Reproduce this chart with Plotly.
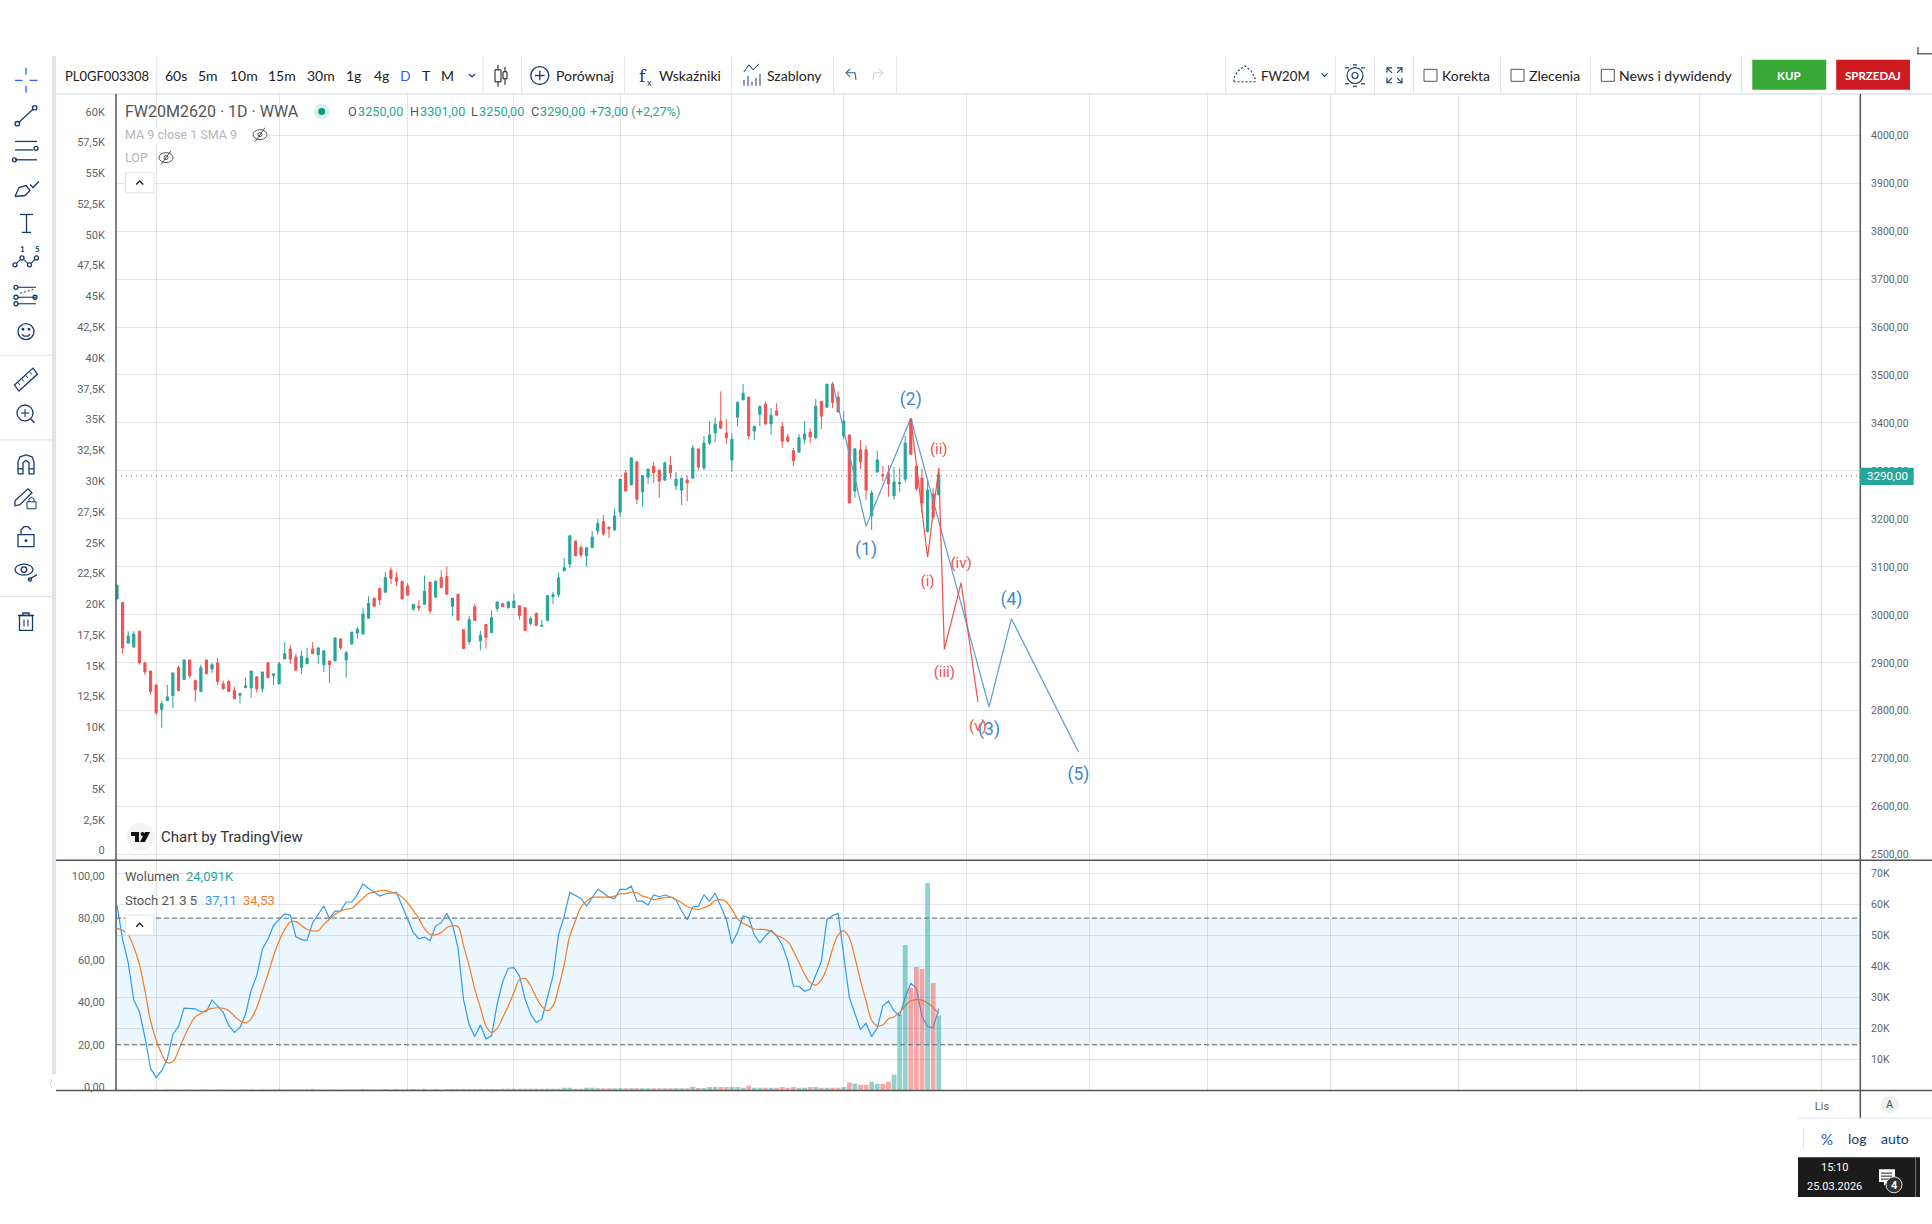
import plotly.graph_objects as go

W = 1932
H = 1224

opens = [3033, 3026, 2941, 2933, 2966, 2900, 2883, 2854, 2803, 2821, 2832, 2890, 2865, 2906, 2863, 2840, 2906, 2887, 2900, 2856,
         2861, 2842, 2832, 2848, 2848, 2871, 2846, 2900, 2873, 2856, 2908, 2929, 2912, 2890, 2898, 2929, 2917, 2896, 2904, 2904,
         2950, 2906, 2939, 2962, 2960, 2993, 3035, 3055, 3047, 3093, 3078, 3070, 3060, 3012, 3018, 3022, 3068, 3037, 3078, 3080,
         3018, 3043, 2969, 2944, 3017, 2946, 2980, 2963, 3013, 3023, 3015, 3015, 3019, 3015, 2982, 3003, 2976, 2988, 3038, 3042,
         3092, 3106, 3154, 3140, 3123, 3140, 3175, 3194, 3183, 3177, 3214, 3296, 3271, 3319, 3256, 3287, 3310, 3302, 3281, 3312,
         3269, 3260, 3281, 3285, 3346, 3306, 3358, 3379, 3404, 3379, 3323, 3412, 3448, 3454, 3383, 3418, 3439, 3398, 3425, 3393,
         3371, 3342, 3339, 3366, 3381, 3369, 3445, 3433, 3481, 3454, 3373, 3375, 3258, 3344, 3344, 3206, 3298, 3292, 3296, 3248,
         3273, 3283, 3408, 3310, 3285, 3173, 3252, 3250]
highs = [3062, 3026, 2966, 2966, 2966, 2902, 2883, 2854, 2821, 2854, 2879, 2894, 2906, 2906, 2865, 2896, 2906, 2900, 2910, 2863,
         2865, 2850, 2838, 2869, 2883, 2871, 2881, 2900, 2877, 2902, 2943, 2937, 2919, 2925, 2931, 2943, 2933, 2925, 2904, 2952,
         2950, 2925, 2964, 2975, 3014, 3039, 3035, 3057, 3089, 3099, 3089, 3070, 3066, 3022, 3031, 3082, 3068, 3072, 3093, 3101,
         3035, 3043, 2969, 2998, 3023, 2967, 2980, 3009, 3027, 3025, 3029, 3044, 3019, 3015, 2996, 3005, 2990, 3040, 3048, 3088,
         3119, 3165, 3154, 3146, 3140, 3175, 3200, 3208, 3183, 3221, 3283, 3302, 3329, 3319, 3290, 3304, 3319, 3302, 3319, 3331,
         3298, 3285, 3290, 3354, 3346, 3373, 3404, 3412, 3466, 3408, 3379, 3445, 3481, 3454, 3393, 3435, 3445, 3431, 3441, 3402,
         3377, 3348, 3377, 3404, 3389, 3450, 3445, 3481, 3484, 3466, 3425, 3375, 3346, 3364, 3354, 3260, 3342, 3310, 3312, 3308,
         3306, 3373, 3408, 3310, 3304, 3283, 3265, 3301]
lows = [3033, 2919, 2941, 2931, 2896, 2875, 2834, 2790, 2765, 2821, 2805, 2842, 2865, 2867, 2819, 2840, 2877, 2879, 2854, 2844,
        2840, 2825, 2815, 2848, 2827, 2838, 2838, 2869, 2854, 2856, 2908, 2898, 2883, 2877, 2898, 2919, 2898, 2881, 2858, 2904,
        2927, 2869, 2939, 2950, 2960, 2993, 3016, 3020, 3047, 3064, 3060, 3033, 3041, 3008, 3008, 3022, 3002, 3037, 3057, 3043,
        2997, 2989, 2928, 2938, 2988, 2926, 2930, 2963, 3007, 3017, 3013, 3015, 2990, 2967, 2978, 2978, 2976, 2988, 3023, 3036,
        3092, 3098, 3123, 3119, 3100, 3140, 3167, 3165, 3160, 3175, 3204, 3258, 3271, 3231, 3225, 3273, 3275, 3244, 3279, 3285,
        3260, 3229, 3237, 3285, 3302, 3302, 3354, 3360, 3389, 3356, 3298, 3393, 3448, 3366, 3364, 3393, 3396, 3375, 3416, 3348,
        3360, 3310, 3339, 3356, 3358, 3366, 3387, 3431, 3431, 3423, 3366, 3233, 3244, 3304, 3240, 3177, 3296, 3279, 3246, 3240,
        3256, 3277, 3333, 3258, 3213, 3173, 3200, 3250]
closes = [3062, 2931, 2956, 2960, 2900, 2881, 2840, 2796, 2815, 2829, 2879, 2842, 2906, 2873, 2844, 2890, 2877, 2896, 2861, 2846,
          2840, 2825, 2836, 2852, 2883, 2846, 2881, 2869, 2877, 2898, 2919, 2908, 2885, 2914, 2910, 2919, 2931, 2925, 2896, 2952,
          2931, 2921, 2964, 2970, 3002, 3024, 3018, 3031, 3078, 3076, 3070, 3033, 3041, 3022, 3014, 3049, 3008, 3070, 3057, 3043,
          3035, 2989, 2930, 2990, 2988, 2957, 2953, 2994, 3027, 3017, 3027, 3029, 2998, 2967, 2992, 2978, 2978, 3040, 3042, 3077,
          3098, 3165, 3123, 3125, 3140, 3162, 3190, 3169, 3179, 3206, 3283, 3258, 3327, 3241, 3290, 3304, 3296, 3279, 3317, 3296,
          3283, 3285, 3275, 3348, 3308, 3358, 3375, 3398, 3389, 3369, 3366, 3443, 3462, 3373, 3393, 3435, 3398, 3416, 3416, 3362,
          3362, 3321, 3369, 3377, 3371, 3435, 3414, 3481, 3443, 3423, 3404, 3233, 3346, 3319, 3260, 3254, 3323, 3290, 3273, 3277,
          3276, 3358, 3335, 3263, 3233, 3260, 3204, 3290]

# volume in thousands
volume = [0.2, 0.1, 0.2, 0.1, 0.2, 0.2, 0.1, 0.2, 0.1, 0.2, 0.2, 0.1, 0.2, 0.2, 0.1, 0.2, 0.2, 0.1, 0.2, 0.2,
          0.2, 0.1, 0.2, 0.2, 0.2, 0.1, 0.2, 0.2, 0.2, 0.2, 0.2, 0.2, 0.2, 0.2, 0.2, 0.3, 0.2, 0.2, 0.2, 0.2,
          0.2, 0.2, 0.2, 0.2, 0.3, 0.2, 0.2, 0.2, 0.3, 0.2, 0.3, 0.2, 0.2, 0.3, 0.2, 0.3, 0.2, 0.3, 0.2, 0.3,
          0.3, 0.3, 0.3, 0.3, 0.3, 0.3, 0.3, 0.3, 0.3, 0.4, 0.4, 0.4, 0.4, 0.4, 0.4, 0.4, 0.4, 0.4, 0.4, 0.4,
          0.75, 0.75, 0.4, 0.4, 0.7, 0.7, 0.6, 0.6, 0.6, 0.6, 0.6, 0.6, 0.6, 0.6, 0.6, 0.6, 0.6, 0.6, 0.6, 0.6,
          0.6, 0.6, 0.6, 1.05, 0.65, 0.65, 1.0, 1.0, 1.0, 1.0, 1.0, 1.0, 0.7, 1.4, 0.7, 0.7, 0.7, 0.7, 0.7, 1.0,
          0.7, 1.0, 0.7, 0.7, 1.0, 1.0, 0.7, 0.7, 0.7, 0.7, 1.0, 2.4, 2.0, 1.7, 1.7, 2.7, 2.0, 2.0, 2.7, 4.9,
          24.3, 46.9, 33.0, 39.8, 39.1, 66.9, 34.6, 24.09]

stoch_k = [86, 69.9, 58.9, 41.1, 35.7, 23.5, 8.8, 4.5, 7.7, 13.2, 25, 28.6, 37.3, 37, 37, 35.6, 35.7, 41.2, 38.4, 35.3,
           29, 25.8, 28.2, 34.5, 45.8, 52.6, 65.2, 69.9, 76.5, 79.4, 82, 81.4, 71.2, 69.8, 69.4, 77.8, 81.7, 85.7, 79.8, 83.3,
           83.3, 87.6, 87.6, 91.2, 96.2, 94, 92.3, 90.4, 91.5, 91.8, 92.1, 85.7, 79.4, 73.1, 70.2, 71, 69.3, 76.2, 77.8, 82.2,
           77, 66, 41.2, 29.4, 23.9, 29.3, 22.8, 24.2, 39.2, 49.9, 56.2, 56.5, 52.6, 41.6, 34.5, 30.5, 32.1, 42.4, 52.6, 72.3,
           80.9, 92.1, 90.7, 89.3, 85.7, 89.6, 93.5, 92, 89.9, 89.1, 93.7, 93.5, 95.1, 88, 88, 86.1, 90.9, 90.1, 90.9, 90.1,
           88.5, 83.3, 79.2, 85.3, 85.5, 91, 88, 91.8, 85.7, 79.4, 67.9, 73.1, 81.1, 80.2, 72, 68.3, 71.5, 74.3, 71.5, 67.2,
           59.7, 47.7, 47.7, 45.3, 46.4, 53.4, 59.4, 79.4, 81.1, 82.2, 62.8, 42.4, 34.8, 27.1, 30.2, 23.8, 27.9, 38.4, 40.6, 36,
           33.7, 42.4, 49.1, 46.8, 33.4, 28.6, 28, 37.11]
stoch_d = [75.1, 74.2, 72, 66.3, 58.1, 45.5, 31.3, 22.2, 15.6, 11.5, 12, 17.2, 23.5, 29, 33.2, 34.8, 36.4, 37.2, 37.5, 37.2,
           36.1, 33.5, 31.3, 30.4, 32.4, 37.6, 45.5, 53.4, 62, 69.1, 74.6, 78.1, 78.3, 76.5, 74.6, 73.9, 74, 77, 79.4, 81.7,
           83.3, 84.2, 84.6, 86.9, 89.3, 91.6, 92.3, 92.9, 93.1, 92.3, 91.6, 89.9, 87.2, 83.6, 79.7, 75, 72.3, 72, 73.1, 75.4,
           76.4, 75.9, 66.8, 57.3, 46.3, 37.6, 29, 25.8, 27.7, 32.9, 38.4, 44.7, 50.7, 51.3, 47.9, 42.4, 38.1, 36.1, 38.4, 47.1,
           58.1, 71.5, 78.6, 85.2, 88, 89.8, 89.9, 89.9, 89.9, 90.4, 91.5, 91.6, 92.3, 92, 90.4, 89.6, 88.7, 89.3, 89.6, 89.9,
           88.8, 87.2, 85.5, 84.4, 84.1, 84.9, 86.1, 88.3, 88.7, 87.6, 84.1, 79.7, 77.5, 76.2, 74.8, 74.6, 74.5, 73.5, 71.8, 70.7,
           68.8, 64.4, 58.9, 53.4, 49.4, 48.2, 50.7, 56.5, 65.2, 72, 73.9, 70.7, 61.3, 50.2, 40.8, 31.6, 29, 29.3, 32.3, 33.2,
           35.3, 38.4, 40.8, 41.4, 41.1, 39.7, 37.6, 34.53]

# elliott wave drawings: bar number, price
wave_x = [128, 134, 142, 156, 160, 172]
wave_y = [3485, 3185, 3410, 2808, 2992, 2714]
sub_x = [142, 145, 147, 148, 151, 154]
sub_y = [3410, 3120, 3306, 2928, 3067, 2819]
wave_label_x = [134, 142, 156, 160, 172]
wave_label_y = [3134, 3446, 2758, 3030, 2664]
wave_labels = ['(1)', '(2)', '(3)', '(4)', '(5)']
sub_label_x = [145, 147, 148, 151, 154]
sub_label_y = [3069, 3344, 2879, 3105, 2766]
sub_labels = ['(i)', '(ii)', '(iii)', '(iv)', '(v)']

last_price = 3290
time_ticks = [7, 29, 52, 71, 90, 110, 130, 152, 174, 195, 217, 240, 261, 283, 305]
time_labels = ['', '', '', '', '', '', '', '', '', '', '', '', '', '', 'Lis']
price_ticks = [2500, 2600, 2700, 2800, 2900, 3000, 3100, 3200, 3300, 3400, 3500, 3600, 3700, 3800, 3900, 4000]
price_labels = ['%d,00' % p for p in price_ticks]
oi_ticks = [0, 2.5, 5, 7.5, 10, 12.5, 15, 17.5, 20, 22.5, 25, 27.5, 30, 32.5, 35, 37.5, 40, 42.5, 45, 47.5, 50, 52.5, 55, 57.5, 60]
oi_labels = ['0', '2,5K', '5K', '7,5K', '10K', '12,5K', '15K', '17,5K', '20K', '22,5K', '25K', '27,5K', '30K', '32,5K',
             '35K', '37,5K', '40K', '42,5K', '45K', '47,5K', '50K', '52,5K', '55K', '57,5K', '60K']
stoch_ticks = [0, 20, 40, 60, 80, 100]
stoch_labels = ['0,00', '20,00', '40,00', '60,00', '80,00', '100,00']
vol_ticks = [10, 20, 30, 40, 50, 60, 70]
vol_labels = ['10K', '20K', '30K', '40K', '50K', '60K', '70K']

TEAL = '#26A69A'
RED = '#EF5350'
GRID = 'rgba(0,0,0,0.1)'
AXIS = '#555555'
NAVY = '#17396F'
SEP = '#E0E3EB'
UI_FONT = 'Lato'
CHART_FONT = 'Roboto'

bars = list(range(len(closes)))
vol_colors = ['rgba(38,166,154,0.5)' if c >= o else 'rgba(239,83,80,0.5)' for o, c in zip(opens, closes)]

fig = go.Figure()
fig.add_trace(go.Scatter(x=bars, y=stoch_k, xaxis='x2', yaxis='y3', mode='lines', line=dict(color='#2E9BF0', width=1.2)))
fig.add_trace(go.Scatter(x=bars, y=stoch_d, xaxis='x2', yaxis='y3', mode='lines', line=dict(color='#F57C1F', width=1.2, shape='spline')))
fig.add_trace(go.Bar(x=bars, y=volume, xaxis='x2', yaxis='y4', marker=dict(color=vol_colors, line=dict(width=0)), width=0.86))
fig.add_trace(go.Candlestick(x=bars, open=opens, high=highs, low=lows, close=closes, xaxis='x', yaxis='y',
                             increasing=dict(line=dict(color=TEAL, width=1), fillcolor=TEAL),
                             decreasing=dict(line=dict(color=RED, width=1), fillcolor=RED),
                             whiskerwidth=0))
fig.add_trace(go.Scatter(x=wave_x, y=wave_y, xaxis='x', yaxis='y', mode='lines', line=dict(color='#5B9BD5', width=1.2)))
fig.add_trace(go.Scatter(x=sub_x, y=sub_y, xaxis='x', yaxis='y', mode='lines', line=dict(color='#F0504C', width=1.2)))
fig.add_trace(go.Scatter(x=wave_label_x, y=wave_label_y, text=wave_labels, xaxis='x', yaxis='y', mode='text',
                         textfont=dict(color='#3F87C8', size=17.5, family=CHART_FONT)))
fig.add_trace(go.Scatter(x=sub_label_x, y=sub_label_y, text=sub_labels, xaxis='x', yaxis='y', mode='text',
                         textfont=dict(color='#F0504C', size=15, family=CHART_FONT)))
# the LOP study is hidden on the chart, only its scale stays
fig.add_trace(go.Scatter(x=[0, 0], y=[0, 60], xaxis='x', yaxis='y2', mode='lines', line=dict(color='rgba(0,0,0,0)')))

shapes = []
notes = []


def px(x, y):
    return x / W, 1 - y / H


def path(points, color=NAVY, width=1.3, closed=False, fill=None, dash=None):
    d = ''
    for i, (x, y) in enumerate(points):
        a, b = px(x, y)
        d += ('M' if i == 0 else 'L') + '%.5f %.5f ' % (a, b)
    if closed:
        d += 'Z'
    s = dict(type='path', xref='paper', yref='paper', path=d, line=dict(color=color or 'rgba(0,0,0,0)', width=width))
    if fill:
        s['fillcolor'] = fill
    if dash:
        s['line']['dash'] = dash
    shapes.append(s)


def box(x0, y0, x1, y1, fill=None, color=None, width=1):
    a, b = px(x0, y1)
    c, d = px(x1, y0)
    shapes.append(dict(type='rect', xref='paper', yref='paper', x0=a, y0=b, x1=c, y1=d,
                       fillcolor=fill or 'rgba(0,0,0,0)', line=dict(color=color or 'rgba(0,0,0,0)', width=width if color else 0)))


def circle(cx, cy, r, color=NAVY, width=1.3, fill=None, ry=None):
    ry = ry or r
    a, b = px(cx - r, cy + ry)
    c, d = px(cx + r, cy - ry)
    shapes.append(dict(type='circle', xref='paper', yref='paper', x0=a, y0=b, x1=c, y1=d,
                       fillcolor=fill or 'rgba(0,0,0,0)', line=dict(color=color or 'rgba(0,0,0,0)', width=width if color else 0)))


def label(x, y, text, size=13, color='#222222', anchor='left', family=UI_FONT, bold=False):
    # annotations sit a little to the right of the anchor
    a, b = px(x - 1.5 if anchor == 'left' else x, y)
    notes.append(dict(xref='paper', yref='paper', x=a, y=b, text='<b>%s</b>' % text if bold else text, showarrow=False,
                      xanchor=anchor, yanchor='middle', borderpad=0, font=dict(size=size, color=color, family=family)))


def chevron(x, y, size, up=False, color=NAVY, width=1.2):
    s = -1 if up else 1
    path([(x - size, y - s * size / 2), (x, y + s * size / 2), (x + size, y - s * size / 2)], color=color, width=width)


# frame of the chart
path([(56, 94.3), (1932, 94.3)], color=SEP, width=1.5)
box(52, 56, 56, 1077, fill='#E0E3EB')
path([(52, 1090), (50, 1086), (52, 1082)], color='#C9CCD6', width=1)
path([(116, 94.3), (116, 1093.3)], color=AXIS, width=1.5)
path([(1860.3, 94.3), (1860.3, 1121)], color=AXIS, width=1.5)
path([(56, 862.3), (1932, 862.3)], color=AXIS, width=1.5)
path([(56, 1093.3), (1932, 1093.3)], color=AXIS, width=1.5)
path([(1798, 1121), (1932, 1121)], color=SEP, width=1)
path([(1803.3, 1130), (1803.3, 1152)], color=SEP, width=1)

# top toolbar
for sx in [156.3, 482.9, 521.7, 624.7, 731.3, 833.7, 896.7, 1225.6, 1335.2, 1374.6, 1413.5, 1500.5, 1590.7, 1741.6]:
    path([(sx, 56), (sx, 94.3)], color=SEP, width=1)
label(65.4, 75.7, 'PL0GF003308', size=13)
for cx, txt, col in [(176.3, '60s', '#222222'), (208.4, '5m', '#222222'), (243.6, '10m', '#222222'), (281.7, '15m', '#222222'),
                     (320.5, '30m', '#222222'), (353.8, '1g', '#222222'), (381, '4g', '#222222'), (405.3, 'D', '#2962FF'),
                     (426, 'T', '#222222'), (447, 'M', '#222222')]:
    label(cx, 75.7, txt, size=14, color=col, anchor='center')
chevron(472, 75.7, 3)
path([(498, 65), (498, 87)], color='#111111', width=1)
box(495, 70, 501, 82, fill='#FFFFFF', color='#111111')
path([(505, 67), (505, 85)], color='#111111', width=1)
box(503, 72, 507, 79, fill='#FFFFFF', color='#111111')
circle(539.8, 75.7, 9)
path([(535, 75.7), (544.6, 75.7)])
path([(539.8, 71), (539.8, 80.5)])
label(556.8, 75.7, 'Porównaj', size=14)
label(643, 75.7, 'f', size=17, color=NAVY, anchor='center', family='DejaVu Serif')
label(649, 83, 'x', size=9, color=NAVY, anchor='center')
label(659.8, 75.7, 'Wskaźniki', size=14)
path([(744, 72), (749, 65), (753, 70), (759, 64)], width=1)
for bx, top in [(744, 80), (748, 76), (752, 82), (756, 78), (760, 74)]:
    path([(bx, top), (bx, 86)], width=1)
label(767, 75.7, 'Szablony', size=14)
path([(856, 80), (855, 73), (846, 73)], color='#3C5A8C', width=1.1)
path([(850, 69), (846, 73), (850, 77)], color='#3C5A8C', width=1.1)
path([(873, 80), (874, 73), (883, 73)], color='#C9D2E3', width=1.1)
path([(879, 69), (883, 73), (879, 77)], color='#C9D2E3', width=1.1)

# right side of the toolbar
path([(1234, 82), (1234, 78), (1238, 71), (1245, 66), (1251, 71), (1255, 78), (1255, 82), (1234, 82)], dash='2px,2px', width=1.1)
label(1261, 75.7, 'FW20M', size=13.2)
chevron(1324.5, 75, 3)
circle(1355, 75.7, 8, width=1.2)
circle(1355, 75.7, 3, width=1.1)
for a, b in [((1345, 68), (1349, 68)), ((1361, 68), (1365, 68)), ((1345, 84), (1349, 84)), ((1361, 84), (1365, 84)), ((1353, 65), (1357, 65)), ((1353, 86.5), (1357, 86.5))]:
    path([a, b], width=1.2)
for ax, ay, dx, dy in [(1387, 68, 1, 1), (1402, 68, -1, 1), (1387, 83, 1, -1), (1402, 83, -1, -1)]:
    path([(ax + dx * 5, ay), (ax, ay), (ax, ay + dy * 5)], width=1.1)
    path([(ax, ay), (ax + dx * 5, ay + dy * 5)], width=1.1)
for x0, x1, txt in [(1424, 1442.3, 'Korekta'), (1511, 1529.3, 'Zlecenia'), (1601.3, 1619.5, 'News i dywidendy')]:
    box(x0, 69.5, x0 + 13, 81.5, fill='#FFFFFF', color='#555555')
    label(x1, 75.7, txt, size=14)
box(1752.3, 60, 1826.2, 90, fill='#38A935')
box(1836.2, 60, 1910, 90, fill='#CF1A21')
label(1789, 75.5, 'KUP', size=11.5, color='#FFFFFF', anchor='center', bold=True)
label(1873, 75.5, 'SPRZEDAJ', size=11.5, color='#FFFFFF', anchor='center', bold=True)
path([(1917, 54), (1932, 54)], color='#222222', width=1)
path([(1918, 47), (1918, 54)], color='#222222', width=1)

# left drawing tools
for sy in [356, 441, 598]:
    path([(0, sy), (52, sy)], color=SEP, width=1)
path([(26, 68), (26, 75)], color='#2962FF')
path([(26, 86), (26, 93)], color='#2962FF')
path([(15, 80.6), (22.5, 80.6)], color='#2962FF')
path([(29.5, 80.6), (37.5, 80.6)], color='#2962FF')
circle(17.3, 124, 2.2)
circle(34.7, 108, 2.2)
path([(19, 122.5), (33, 109.5)])
for ly, x1 in [(141.8, 37), (150.3, 33), (160.2, 37)]:
    path([(15, ly), (x1, ly)])
circle(36, 148.7, 2)
circle(14.5, 160.2, 2)
path([(15, 197), (19, 188), (26, 186), (30, 191), (25, 196), (15, 197)])
path([(30, 185), (33, 188), (39, 182)])
path([(20, 215), (33, 215)])
path([(26.5, 215), (26.5, 233)])
path([(22, 233), (31, 233)])
wave_pts = [(15, 265.5), (22, 258.6), (29.5, 265.5), (36.5, 258.6)]
path(wave_pts, width=1.1)
for p in wave_pts:
    circle(p[0], p[1], 2, fill='#FFFFFF')
label(22, 250, '1', size=8, color=NAVY, anchor='center', bold=True)
label(37, 250, '5', size=8, color=NAVY, anchor='center', bold=True)
for ly in [288, 298, 304.5]:
    path([(18, ly), (36, ly)], width=1.1)
    circle(16, ly, 2)
circle(35, 298, 2)
path([(20, 294), (34, 290)], dash='2px,2px', width=1)
circle(26, 332.4, 8)
circle(23, 330, 0.8, fill=NAVY)
circle(29, 330, 0.8, fill=NAVY)
path([(22, 335), (24, 337), (28, 337), (30, 335)])
path([(14.5, 386), (33, 369), (37.5, 375), (19, 392)], closed=True)
for tx, ty in [(20, 386), (24, 382.5), (28, 379), (32, 375.5)]:
    path([(tx - 2, ty - 2.5), (tx, ty)], width=1)
circle(25, 414, 8)
path([(21, 414), (29, 414)], width=1.1)
path([(25, 410), (25, 418)], width=1.1)
path([(31, 420), (34.5, 424)])
path([(18, 475), (18, 463), (20, 458), (26, 456), (32, 458), (34, 463), (34, 475), (29, 475), (29, 464), (26, 461.5), (23, 464), (23, 475), (18, 475)])
path([(18, 470), (23, 470)])
path([(29, 470), (34, 470)])
path([(15, 502), (28, 490), (32, 494), (20, 506), (15, 507), (15, 502)])
box(27, 503, 36, 510, fill='#FFFFFF', color=NAVY)
path([(29, 503), (29, 500), (31.5, 498.5), (34, 500), (34, 503)], width=1)
box(18, 536, 34, 548, color=NAVY, width=1.3)
path([(21, 536), (21, 531), (24, 528), (28, 528), (31, 531)])
circle(26, 542, 0.8, fill=NAVY)
circle(24, 571, 9, ry=5.5)
circle(24, 571, 2.8)
path([(29, 581), (37, 576)])
circle(30, 581, 1.6)
path([(18, 617), (34, 617)])
path([(23, 617), (23, 614.5), (29, 614.5), (29, 617)])
box(19.5, 617, 32.5, 632, color=NAVY, width=1.3)
path([(24, 621), (24, 628)], width=1.1)
path([(28, 621), (28, 628)], width=1.1)

# legend of the price pane
label(125.4, 111.7, 'FW20M2620 · 1D · WWA', size=16, color='#555555', family=CHART_FONT)
circle(321.7, 111.7, 8, color=None, fill='#DCEFEC')
circle(321.7, 111.7, 3.5, color=None, fill='#089981')
for x, txt, col in [(348.4, 'O', '#555555'), (358, '3250,00', TEAL), (410, 'H', '#555555'), (420.5, '3301,00', TEAL),
                    (471.4, 'L', '#555555'), (479, '3250,00', TEAL), (531, 'C', '#555555'), (540.5, '3290,00', TEAL),
                    (590.7, '+73,00 (+2,27%)', TEAL)]:
    label(x, 111.7, txt, size=12.7, color=col, family=CHART_FONT)
box(117, 127, 269, 143, fill='#FFFFFF')
label(125.4, 135, 'MA 9 close 1 SMA 9', size=12.5, color='#B2B5BE', family=CHART_FONT)
label(125.4, 158.3, 'LOP', size=12.5, color='#B2B5BE', family=CHART_FONT)
for ex, ey in [(260, 135), (166, 158)]:
    circle(ex, ey, 7, color='#555555', width=1, ry=5)
    circle(ex, ey, 2, color='#555555', width=1)
    path([(ex - 5, ey + 7), (ex + 5, ey - 7)], color='#555555', width=1)
box(125.5, 173.3, 153.9, 193.3, fill='#FFFFFF', color=SEP)
chevron(139.7, 183.3, 3.5, up=True, color='#222222', width=1.4)

# legend of the lower pane
label(125, 878.3, 'Wolumen', size=13, color='#555555', family=CHART_FONT)
label(186.7, 878.3, '24,091K', size=13, color=TEAL, family=CHART_FONT)
label(125, 902.3, 'Stoch 21 3 5', size=13, color='#555555', family=CHART_FONT)
label(205.7, 902.3, '37,11', size=13, color='#2E9BF0', family=CHART_FONT)
label(243.3, 902.3, '34,53', size=13, color='#F57C1F', family=CHART_FONT)
box(125.7, 917.3, 153.7, 937.3, fill='#FFFFFF', color=SEP)
chevron(139.7, 927.3, 3.5, up=True, color='#222222', width=1.4)

# tradingview logo
circle(140.5, 839, 14, color=None, fill='#F4F4F5')
path([(131, 834), (139, 834), (139, 844), (135, 844), (135, 838), (131, 838)], color=None, width=0, closed=True, fill='#111111')
circle(142.5, 836, 2, color=None, fill='#111111')
path([(145, 834), (150, 834), (145, 844), (140, 844)], color=None, width=0, closed=True, fill='#111111')
label(161.4, 839.5, 'Chart by TradingView', size=15, color='#333333', family=CHART_FONT)

# last price tag
box(1860, 469, 1913.7, 486.3, fill=TEAL)
label(1887, 477.5, '3290,00', size=11.5, color='#FFFFFF', anchor='center', family=CHART_FONT)

# bottom right corner
circle(1890, 1107, 9, color=None, fill='#EEF0F4')
label(1890, 1107, 'A', size=11, color='#555555', anchor='center', family=CHART_FONT)
label(1826.7, 1141.7, '%', size=15, color='#2A5CA8', anchor='center')
label(1857, 1141.7, 'log', size=14, color=NAVY, anchor='center')
label(1894.7, 1141.7, 'auto', size=14, color=NAVY, anchor='center')
box(1798, 1160, 1920, 1200, fill='#1B1B1B')
path([(1915.6, 1160), (1915.6, 1200)], color='#777777', width=1)
label(1834, 1170.7, '15:10', size=11, color='#FFFFFF', anchor='center', family=CHART_FONT)
label(1834, 1189, '25.03.2026', size=11, color='#FFFFFF', anchor='center', family=CHART_FONT)
path([(1879, 1172), (1895, 1172), (1895, 1185), (1887, 1185), (1884, 1189), (1884, 1185), (1879, 1185)], color=None, width=0, closed=True, fill='#FFFFFF')
for ly in [1176, 1179, 1182]:
    path([(1881, ly), (1892, ly)], color='#1B1B1B', width=1)
circle(1894, 1187.7, 8, color='#DDDDDD', width=1, fill='#333333')
label(1894, 1188, '4', size=11, color='#FFFFFF', anchor='center', family=CHART_FONT, bold=True)

# stochastic band and last price line live on the axes
band = dict(type='rect', xref='x2 domain', yref='y3', x0=0, x1=1, y0=20, y1=80, layer='below',
            fillcolor='rgba(33,150,243,0.09)', line=dict(width=0))
dash80 = dict(type='line', xref='x2 domain', yref='y3', x0=0, x1=1, y0=80, y1=80, line=dict(color='#787B86', width=1.2, dash='5px,3px'))
dash20 = dict(type='line', xref='x2 domain', yref='y3', x0=0, x1=1, y0=20, y1=20, line=dict(color='#787B86', width=1.2, dash='5px,3px'))
last_line = dict(type='line', xref='x domain', yref='y', x0=0, x1=1, y0=last_price, y1=last_price, line=dict(color='#179A8C', width=1.1, dash='1px,4px'))

left_font = dict(size=11, color='#5F6368', family=CHART_FONT)
right_font = dict(size=10.5, color='#5F6368', family=CHART_FONT)
left_tick = dict(ticks='outside', ticklen=8, tickcolor='rgba(0,0,0,0)', tickmode='array', tickfont=left_font)
right_tick = dict(ticks='outside', ticklen=8, tickcolor='rgba(0,0,0,0)', tickmode='array', tickfont=right_font)
x_range = [-0.18, 311.8]
x_domain = [116 / W, 1860 / W]
top_domain = [1 - 862.3 / H, 1 - 94.3 / H]
low_domain = [1 - 1093.3 / H, 1 - 862.3 / H]

fig.update_layout(
    width=W, height=H, margin=dict(l=0, r=0, t=0, b=0), paper_bgcolor='white', plot_bgcolor='white',
    showlegend=False, hovermode=False, dragmode=False, boxgap=0.45, boxgroupgap=0.3, barmode='overlay',
    xaxis=dict(domain=x_domain, range=x_range, anchor='y', tickmode='array', tickvals=time_ticks, ticktext=time_labels,
               showticklabels=False, showgrid=True, gridcolor=GRID, rangeslider=dict(visible=False), zeroline=False),
    xaxis2=dict(domain=x_domain, range=x_range, anchor='y3', tickmode='array', tickvals=time_ticks, ticktext=time_labels,
                showgrid=True, gridcolor=GRID, zeroline=False, ticks='outside', ticklen=5, tickcolor='rgba(0,0,0,0)',
                tickfont=left_font, tickangle=0),
    yaxis=dict(domain=top_domain, range=[2488.6, 4085.6], anchor='x', side='right', tickvals=price_ticks, ticktext=price_labels,
               showgrid=True, gridcolor=GRID, zeroline=False, **right_tick),
    yaxis2=dict(range=[-0.78, 61.43], anchor='x', overlaying='y', side='left', tickvals=oi_ticks, ticktext=oi_labels,
                showgrid=False, zeroline=False, **left_tick),
    yaxis3=dict(domain=low_domain, range=[-1.75, 107.4], anchor='x2', side='left', tickvals=stoch_ticks, ticktext=stoch_labels,
                showgrid=False, zeroline=False, **left_tick),
    yaxis4=dict(range=[-0.2, 74.3], anchor='x2', overlaying='y3', side='right', tickvals=vol_ticks, ticktext=vol_labels,
                showgrid=True, gridcolor=GRID, zeroline=False, **right_tick),
    shapes=[band, dash80, dash20, last_line] + shapes,
    annotations=notes,
)

fig.write_html('out.html', config={'displayModeBar': False},
               post_script="document.body.style.margin='0';document.body.style.overflow='hidden';")
